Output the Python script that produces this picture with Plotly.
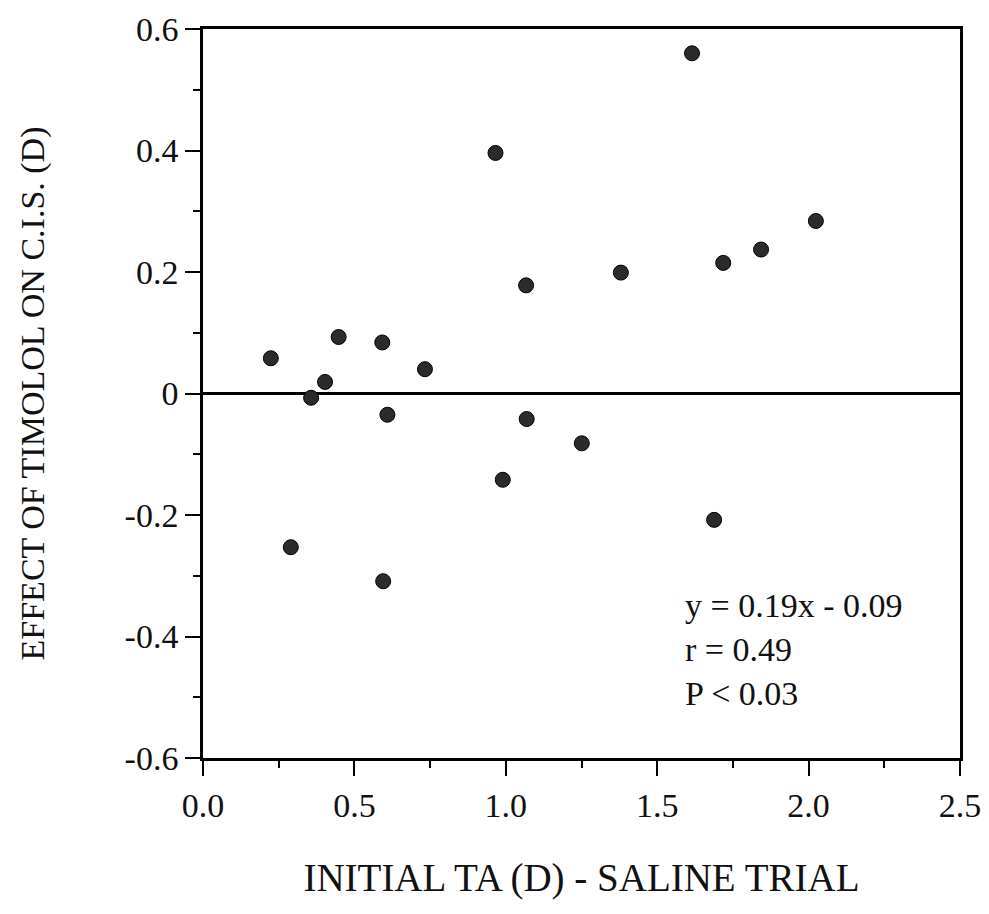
import plotly.graph_objects as go

initial_ta = [0.224, 0.448, 0.592, 0.733, 0.403, 0.357, 0.609, 0.290, 0.595,
              1.069, 1.251, 0.990, 1.688, 0.966, 1.067, 1.380, 1.718, 1.843,
              2.024, 1.615]
timolol_effect = [0.058, 0.093, 0.084, 0.040, 0.019, -0.007, -0.035, -0.253, -0.309,
                  -0.042, -0.082, -0.142, -0.208, 0.396, 0.178, 0.199, 0.215, 0.237,
                  0.284, 0.560]

x_tickvals = [0.0, 0.5, 1.0, 1.5, 2.0, 2.5]
x_ticktext = ["0.0", "0.5", "1.0", "1.5", "2.0", "2.5"]
y_tickvals = [-0.6, -0.4, -0.2, 0.0, 0.2, 0.4, 0.6]
y_ticktext = ["-0.6", "-0.4", "-0.2", "0", "0.2", "0.4", "0.6"]
stats_lines = ["y = 0.19x - 0.09", "r = 0.49", "P < 0.03"]

FONT = "Liberation Serif, Times New Roman, serif"
INK = "#111111"

fig = go.Figure()
fig.add_trace(go.Scatter(
    x=initial_ta, y=timolol_effect, mode="markers",
    marker=dict(size=15, color="#2b2b2b", line=dict(color="#000000", width=1)),
    showlegend=False,
))

fig.add_annotation(
    x=1.585, y=-0.315, xref="x", yref="y",
    xanchor="left", yanchor="top", align="left",
    text="<br>".join(stats_lines), showarrow=False,
    font=dict(family=FONT, size=34, color=INK),
)

fig.update_xaxes(
    range=[0, 2.5], tickvals=x_tickvals, ticktext=x_ticktext,
    showline=True, linecolor="black", linewidth=2.5, mirror=True,
    ticks="outside", ticklen=15, tickwidth=2, tickcolor="black",
    minor=dict(ticks="outside", ticklen=7, tickwidth=2, tickcolor="black", dtick=0.25, showgrid=False),
    showgrid=False, zeroline=False,
    tickfont=dict(family=FONT, size=34, color=INK),
    title=dict(text="INITIAL TA (D) - SALINE TRIAL", standoff=42,
               font=dict(family=FONT, size=39, color=INK)),
)
fig.update_yaxes(
    range=[-0.6, 0.6], tickvals=y_tickvals, ticktext=y_ticktext,
    showline=True, linecolor="black", linewidth=2.5, mirror=True,
    ticks="outside", ticklen=15, tickwidth=2, tickcolor="black",
    minor=dict(ticks="outside", ticklen=7, tickwidth=2, tickcolor="black", dtick=0.1, showgrid=False),
    showgrid=False, zeroline=True, zerolinecolor="black", zerolinewidth=2.5,
    tickfont=dict(family=FONT, size=34, color=INK),
    title=dict(text="EFFECT OF TIMOLOL ON C.I.S. (D)", standoff=70,
               font=dict(family=FONT, size=34, color=INK)),
)

fig.update_layout(
    width=989, height=914,
    margin=dict(l=203, r=29, t=29, b=156, autoexpand=False),
    paper_bgcolor="white", plot_bgcolor="white",
)

fig.write_html("out.html")
